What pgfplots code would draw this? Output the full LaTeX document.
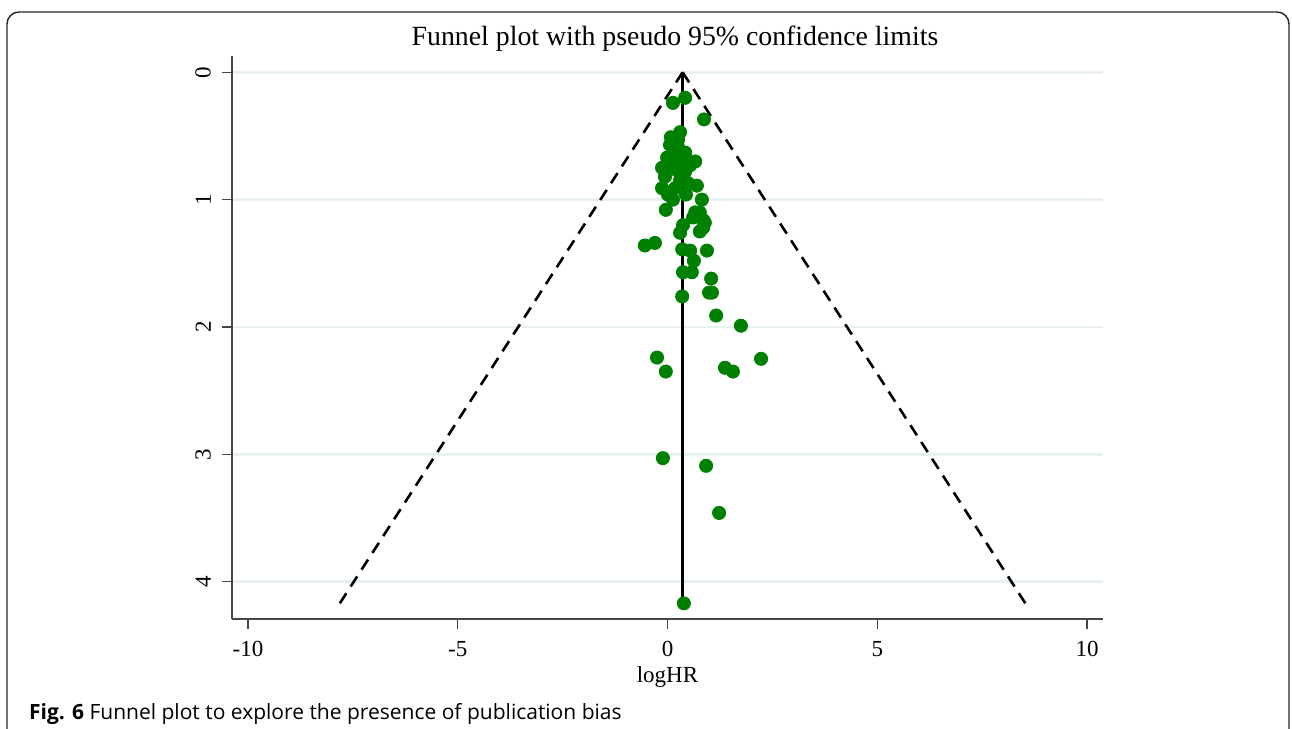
\documentclass[border=0pt]{standalone}
\usepackage{pgfplots}
\pgfplotsset{compat=1.18}
\usepackage{fontspec}
\setmainfont{Liberation Serif}
\newfontfamily\capfont{Open Sans}
\definecolor{mkgreen}{RGB}{0,128,0}
\definecolor{gridc}{RGB}{232,240,242}
\definecolor{axc}{RGB}{70,70,70}
\begin{document}
\begin{tikzpicture}
\path[use as bounding box] (0pt,0pt) rectangle (646pt,364.5pt);
\draw[rounded corners=6pt, line width=0.7pt, black!85] (3.5pt,-8pt) -- (3.5pt,358.5pt) -- (644.5pt,358.5pt) -- (644.5pt,-8pt);
\node[font=\fontsize{13.9}{15}\selectfont] at (337.5pt,345pt) {Funnel plot with pseudo 95\% confidence limits};
\begin{axis}[
  at={(116pt,55pt)}, anchor=south west,
  scale only axis, width=435.5pt, height=281.5pt,
  xmin=-10.38, xmax=10.38, ymin=-0.128, ymax=4.293,
  y dir=reverse,
  axis x line*=bottom, axis y line*=left,
  axis line style={axc, line width=0.6pt},
  tick align=outside, major tick length=5pt,
  tick style={axc, line width=0.6pt},
  xtick={-10,-5,0,5,10}, xticklabels={-10,-5,0,5,10},
  ytick={0,1,2,3,4}, yticklabels={0,1,2,3,4},
  ymajorgrids, grid style={gridc, line width=1.2pt},
  ticklabel style={font=\fontsize{11.5}{13}\selectfont},
  xticklabel style={yshift=-2.5pt},
  yticklabel style={rotate=90, anchor=south, xshift=0pt, yshift=2pt},
  xlabel={logHR}, xlabel style={font=\fontsize{11.5}{13}\selectfont, yshift=2pt},
  clip=false,
]
\addplot[black, line width=1.3pt, dash pattern=on 6pt off 4pt] coordinates {(0.36,0) (-7.81,4.17)};
\addplot[black, line width=1.3pt, dash pattern=on 6pt off 4pt] coordinates {(0.36,0) (8.53,4.17)};
\addplot[black, line width=1.3pt] coordinates {(0.36,0) (0.36,4.17)};
\addplot[only marks, mark=*, mark size=3.3pt, mark options={fill=mkgreen, draw=mkgreen}] coordinates {
(0.42,0.20) (0.13,0.24) (0.87,0.37) (0.30,0.47) (0.08,0.51)
(0.13,0.63) (0.42,0.63) (-0.01,0.67) (0.66,0.70) (-0.13,0.75)
(0.13,0.75) (0.42,0.78) (-0.06,0.82) (0.49,0.87) (0.70,0.89)
(-0.13,0.91) (0.18,0.91) (0.13,1.00) (0.82,1.00) (-0.04,1.08)
(0.66,1.10) (0.77,1.10) (0.61,1.14) (0.85,1.16) (0.89,1.18)
(0.37,1.20) (0.30,1.26) (0.77,1.25) (0.85,1.22) (-0.30,1.34)
(-0.54,1.36) (0.35,1.39) (0.54,1.40) (0.94,1.40) (0.63,1.48)
(0.37,1.57) (0.58,1.57) (1.04,1.62) (0.99,1.73) (1.06,1.73)
(0.35,1.76) (1.16,1.91) (1.75,1.99) (-0.25,2.24) (-0.04,2.35)
(2.23,2.25) (1.37,2.32) (1.56,2.35) (-0.11,3.03) (0.92,3.09)
(1.23,3.46) (0.39,4.17)
(0.23,0.77) (0.37,0.69) (0.18,0.69) (0.06,0.57) (0.25,0.59)
(0.54,0.73) (0.30,0.85) (0.01,0.96) (0.44,0.96) (0.25,0.53)
};
\end{axis}
\node[anchor=base west, font=\capfont\fontsize{10.5}{12}\selectfont] at (11pt,5pt) {\textbf{Fig. 6} Funnel plot to explore the presence of publication bias};
\end{tikzpicture}
\end{document}
